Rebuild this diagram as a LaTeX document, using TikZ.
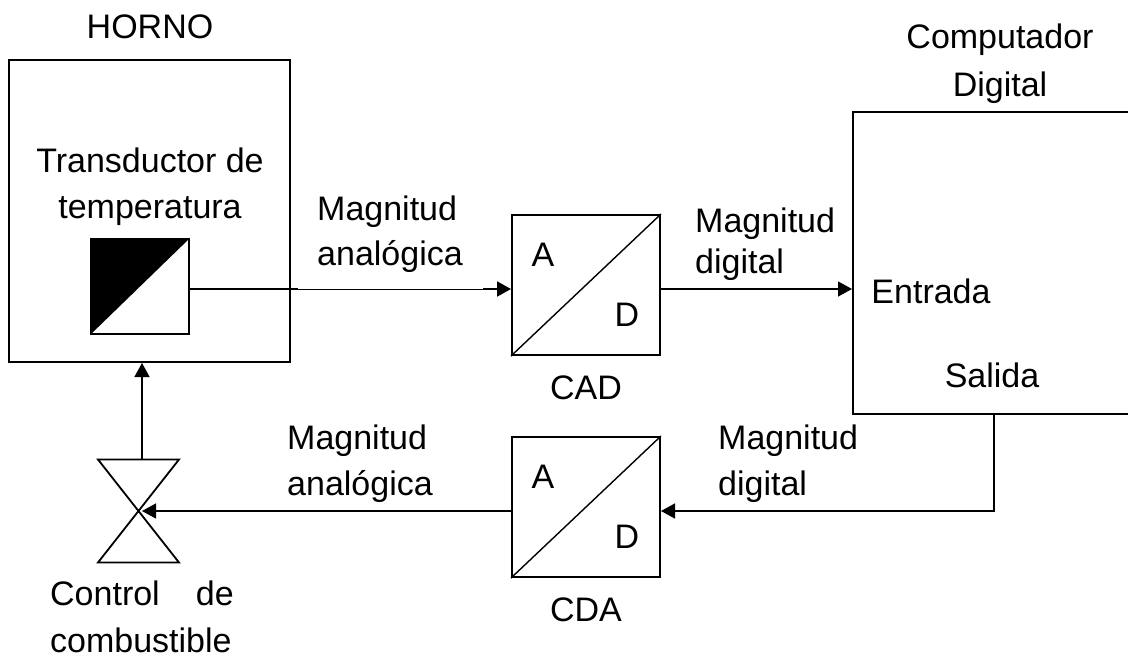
\documentclass[tikz,border=0pt]{standalone}
\usepackage{fontspec}
\setmainfont{Liberation Sans}
\usetikzlibrary{arrows.meta}
\usetikzlibrary{positioning}
\tikzset{
    caja/.style={draw=black,line width=2pt,inner sep=0pt},
    etiqueta/.style={inner sep=0pt,align=left,font=\fontsize{34}{45}\selectfont},
    linea/.style={black,line width=1.4pt},
    flecha/.style={linea,-{Triangle[length=14pt,width=15pt]}}
}

\begin{document}
\begin{tikzpicture}[x=1pt,y=-1pt]
            \useasboundingbox (0,0) rectangle (1128,659);

            % horno
            \node[caja,minimum width=281pt,minimum height=302pt] (horno) at (149.5,211) {};
            \node[etiqueta] (hornotxt) at (150,27) {HORNO};
            \node[etiqueta,align=center,font=\fontsize{34}{46}\selectfont] (transductor) at (150,187) {Transductor de\\temperatura};
            \node[caja,minimum width=98pt,minimum height=95pt] (sensor) at (140,286.5) {};
            \fill[black] (sensor.south west) -- (sensor.north west) -- (sensor.north east) -- cycle;

            % convertidores
            \node[caja,minimum width=148pt,minimum height=140pt] (cad) at (586,285) {};
            \draw[linea] (cad.south west) -- (cad.north east);
            \node[etiqueta] (cadA) at (543,255) {A};
            \node[etiqueta] (cadD) at (627,315) {D};
            \node[etiqueta] (cadtxt) at (586,388) {CAD};

            \node[caja,minimum width=148pt,minimum height=140pt] (cda) at (586,507) {};
            \draw[linea] (cda.south west) -- (cda.north east);
            \node[etiqueta] (cdaA) at (543,477) {A};
            \node[etiqueta] (cdaD) at (627,537) {D};
            \node[etiqueta] (cdatxt) at (586,610) {CDA};

            % computador
            \node[caja,minimum width=300pt,minimum height=302pt] (comp) at (1003,263) {};
            \node[etiqueta,align=center,font=\fontsize{34}{48}\selectfont] (comptxt) at (1000,64) {Computador\\Digital};
            \node[etiqueta] (entrada) at (931,291) {Entrada};
            \node[etiqueta] (salida) at (992,375) {Salida};

            % valvula
            \coordinate (vTL) at (98,459.5);
            \coordinate (vTR) at (179,459.5);
            \coordinate (vBL) at (98,562.5);
            \coordinate (vBR) at (179,562.5);
            \coordinate (vC) at (142,511);
            \coordinate (vT) at (142,459.5);
            \draw[linea,line width=1.8pt,line join=miter] (vTL) -- (vTR) -- (vBL) -- (vBR) -- cycle;

            % conexiones
            \coordinate (sensorOut) at (sensor.east |- 0,289);
            \coordinate (hornoOut) at (298,289);
            \coordinate (cadPre) at (483,289);
            \coordinate (compOut) at (994,414);
            \coordinate (compBaja) at (994,511);
            \draw[black,line width=2pt] (sensorOut) -- (hornoOut);
            \draw[black,line width=0.8pt] (hornoOut) -- (cadPre);
            \draw[flecha,line width=2pt] (cadPre) -- (cad.west |- cadPre);
            \draw[flecha] (cad.east |- cadPre) -- (comp.west |- cadPre);
            \draw[flecha] (compOut) -- (compBaja) -- (cda.east |- compBaja);
            \draw[flecha] (cda.west |- compBaja) -- (vC);
            \draw[flecha] (vT) -- (vT |- horno.south);

            % textos de las senales
            \node[etiqueta,anchor=west] (mag1) at (317,234.5) {Magnitud\\analógica};
            \node[etiqueta,anchor=west,font=\fontsize{34}{41}\selectfont] (mag2) at (695,244) {Magnitud\\digital};
            \node[etiqueta,anchor=west,font=\fontsize{34}{46}\selectfont] (mag3) at (718,464) {Magnitud\\digital};
            \node[etiqueta,anchor=west,font=\fontsize{34}{46}\selectfont] (mag4) at (287,464) {Magnitud\\analógica};
            \node[etiqueta,anchor=west] (ctrl1) at (50,593) {Control};
            \node[etiqueta,anchor=east] (ctrl2) at (234,593) {de};
            \node[etiqueta,anchor=west] (ctrl3) at (50,640) {combustible};
        \end{tikzpicture}
\end{document}
